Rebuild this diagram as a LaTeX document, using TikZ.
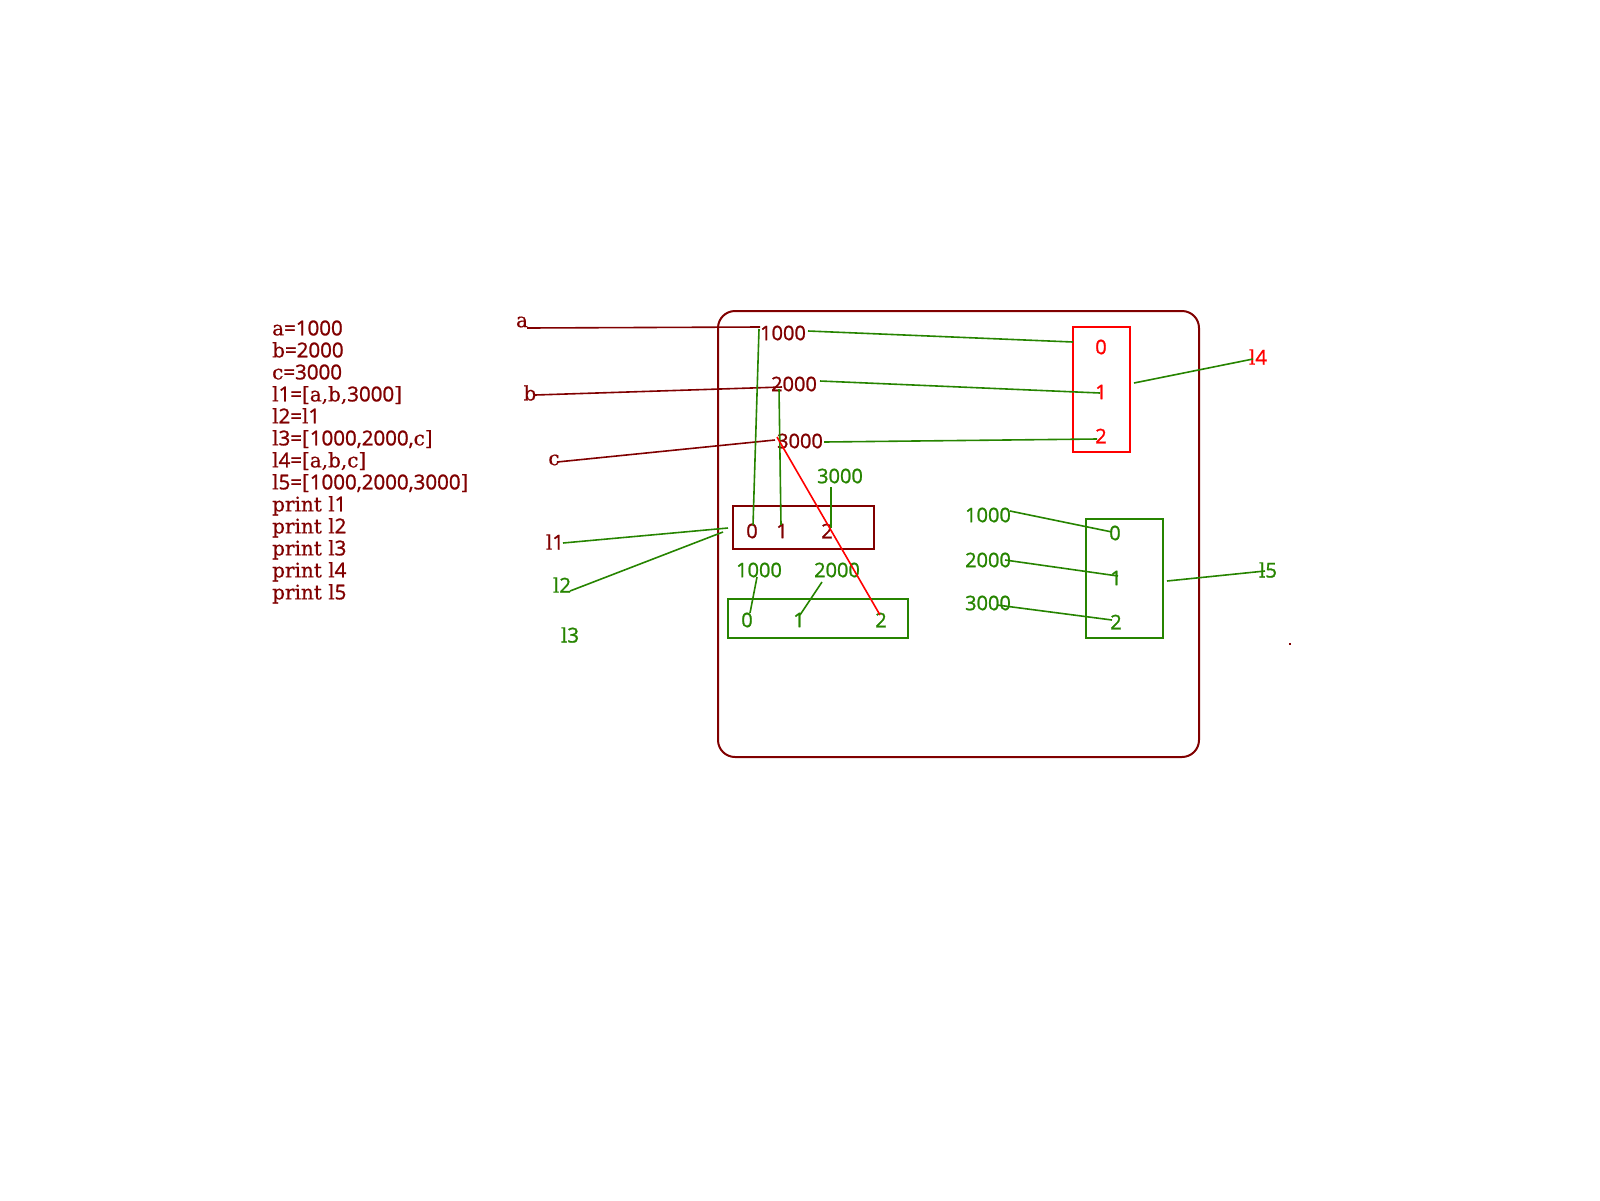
\documentclass[tikz,border=0pt]{standalone}
\usepackage{fontspec}
\setmainfont[FakeBold=0.5]{DejaVu Serif}
\newfontfamily\digfont[FakeBold=1.2]{Open Sans}
\newcommand\dgt[1]{{\fontsize{20.5}{22}\selectfont\digfont #1}}
\definecolor{mar}{RGB}{128,0,0}
\definecolor{grn}{RGB}{38,132,0}
\definecolor{rd}{RGB}{255,0,0}
\begin{document}
\begin{tikzpicture}[x=1pt,y=-1pt,
  txt/.style={inner sep=0pt,font=\fontsize{20}{22}\selectfont},
  num/.style={inner sep=0pt,font=\fontsize{20}{22}\selectfont\digfont},
  wire/.style={line width=1.6pt},
  box/.style={line width=1.6pt}]
\useasboundingbox (0,0) rectangle (1600,1200);
% frame
\draw[mar,line width=2pt,rounded corners=17pt] (718,311) rectangle (1199,757);
% code listing
\node[txt,text=mar,anchor=west,align=left] (code) at (272,462) {%
a\dgt{=1000}\\
b\dgt{=2000}\\
c\dgt{=3000}\\
l\dgt{1=}[a,b,\dgt{3000}]\\
l\dgt{2=}l\dgt{1}\\
l\dgt{3=}[\dgt{1000,2000,}c]\\
l\dgt{4=}[a,b,c]\\
l\dgt{5=}[\dgt{1000,2000,3000}]\\
print l\dgt{1}\\
print l\dgt{2}\\
print l\dgt{3}\\
print l\dgt{4}\\
print l\dgt{5}};
% variable labels
\node[txt,text=mar] (la) at (522,322) {a};
\node[txt,text=mar] (lb) at (530,393) {b};
\node[txt,text=mar] (lc) at (554,460) {c};
\node[txt,text=mar] (ll1) at (555,542) {l\dgt{1}};
\node[txt,text=grn] (ll2) at (562,585) {l\dgt{2}};
\node[txt,text=grn] (ll3) at (570,635) {l\dgt{3}};
% values
\node[num,text=mar] (v1) at (783,333) {1000};
\node[num,text=mar] (v2) at (794,384) {2000};
\node[num,text=mar] (v3) at (800,441) {3000};
% l1 list box
\node[box,draw=mar,minimum width=141pt,minimum height=43pt,inner sep=0pt] (l1box) at (803.5,527.5) {};
\node[num,text=mar] (l1i0) at (752,531) {0};
\node[num,text=mar] (l1i1) at (782,531) {1};
\node[num,text=mar] (l1i2) at (827,531) {2};
\node[num,text=grn] (s3000) at (840,476) {3000};
% l3 list box
\node[box,draw=grn,minimum width=180pt,minimum height=39pt,inner sep=0pt] (l3box) at (818,618.5) {};
\node[num,text=grn] (l3i0) at (747,620) {0};
\node[num,text=grn] (l3i1) at (799,620) {1};
\node[num,text=grn] (l3i2) at (881,620) {2};
\node[num,text=grn] (t1000) at (759,570) {1000};
\node[num,text=grn] (t2000) at (837,570) {2000};
% l4 box
\node[box,draw=rd,minimum width=57pt,minimum height=125pt,inner sep=0pt] (l4box) at (1101.5,389.5) {};
\node[num,text=rd] (l4i0) at (1101,347) {0};
\node[num,text=rd] (l4i1) at (1101,392) {1};
\node[num,text=rd] (l4i2) at (1101,436) {2};
\node[txt,text=rd] (ll4) at (1258,357) {l\dgt{4}};
% l5 box
\node[box,draw=grn,minimum width=77pt,minimum height=119pt,inner sep=0pt] (l5box) at (1124.5,578.5) {};
\node[num,text=grn] (l5i0) at (1115,533) {0};
\node[num,text=grn] (l5i1) at (1116,578) {1};
\node[num,text=grn] (l5i2) at (1116,622) {2};
\node[num,text=grn] (u1000) at (988,515) {1000};
\node[num,text=grn] (u2000) at (988,560) {2000};
\node[num,text=grn] (u3000) at (988,603) {3000};
\node[txt,text=grn] (ll5) at (1268,570) {l\dgt{5}};
\node[fill=mar,inner sep=0pt,minimum size=2pt] (dot) at (1290,644) {};
% connector end points
\coordinate (a1) at (527,328);   \coordinate (a2) at (760,327);
\coordinate (b1) at (535,395);   \coordinate (b2) at (782,387);
\coordinate (c1) at (557,462);   \coordinate (c2) at (775,440);
\coordinate (g1s) at (808,331);  \coordinate (g1e) at (1073,342);
\coordinate (g2s) at (820,381);  \coordinate (g2e) at (1100,393);
\coordinate (g3s) at (824,442);  \coordinate (g3e) at (1097,439);
\coordinate (l4s) at (1134,383); \coordinate (l4e) at (1253,359);
\coordinate (d1s) at (759,329);  \coordinate (d1e) at (753,525);
\coordinate (d2s) at (779,389);  \coordinate (d2e) at (781,525);
\coordinate (d3s) at (831,487);  \coordinate (d3e) at (831,528);
\coordinate (rs) at (777,437);   \coordinate (re) at (880,615);
\coordinate (p1s) at (563,543);  \coordinate (p1e) at (728,528);
\coordinate (p2s) at (570,591);  \coordinate (p2e) at (723,532);
\coordinate (q1s) at (757,577);  \coordinate (q1e) at (750,613);
\coordinate (q2s) at (822,582);  \coordinate (q2e) at (800,615);
\coordinate (m1s) at (1010,511); \coordinate (m1e) at (1112,532);
\coordinate (m2s) at (1005,560); \coordinate (m2e) at (1118,576);
\coordinate (m3s) at (997,605);  \coordinate (m3e) at (1112,620);
\coordinate (l5s) at (1167,581); \coordinate (l5e) at (1265,571);
% connectors
\draw[wire,mar] (a1) -- (a2);
\draw[wire,mar] (b1) -- (b2);
\draw[wire,mar] (c1) -- (c2);
\draw[wire,grn] (g1s) -- (g1e);
\draw[wire,grn] (g2s) -- (g2e);
\draw[wire,grn] (g3s) -- (g3e);
\draw[wire,grn] (l4s) -- (l4e);
\draw[wire,grn] (d1s) -- (d1e);
\draw[wire,grn] (d2s) -- (d2e);
\draw[wire,grn] (d3s) -- (d3e);
\draw[wire,rd] (rs) -- (re);
\draw[wire,grn] (p1s) -- (p1e);
\draw[wire,grn] (p2s) -- (p2e);
\draw[wire,grn] (q1s) -- (q1e);
\draw[wire,grn] (q2s) -- (q2e);
\draw[wire,grn] (m1s) -- (m1e);
\draw[wire,grn] (m2s) -- (m2e);
\draw[wire,grn] (m3s) -- (m3e);
\draw[wire,grn] (l5s) -- (l5e);
\end{tikzpicture}
\end{document}
